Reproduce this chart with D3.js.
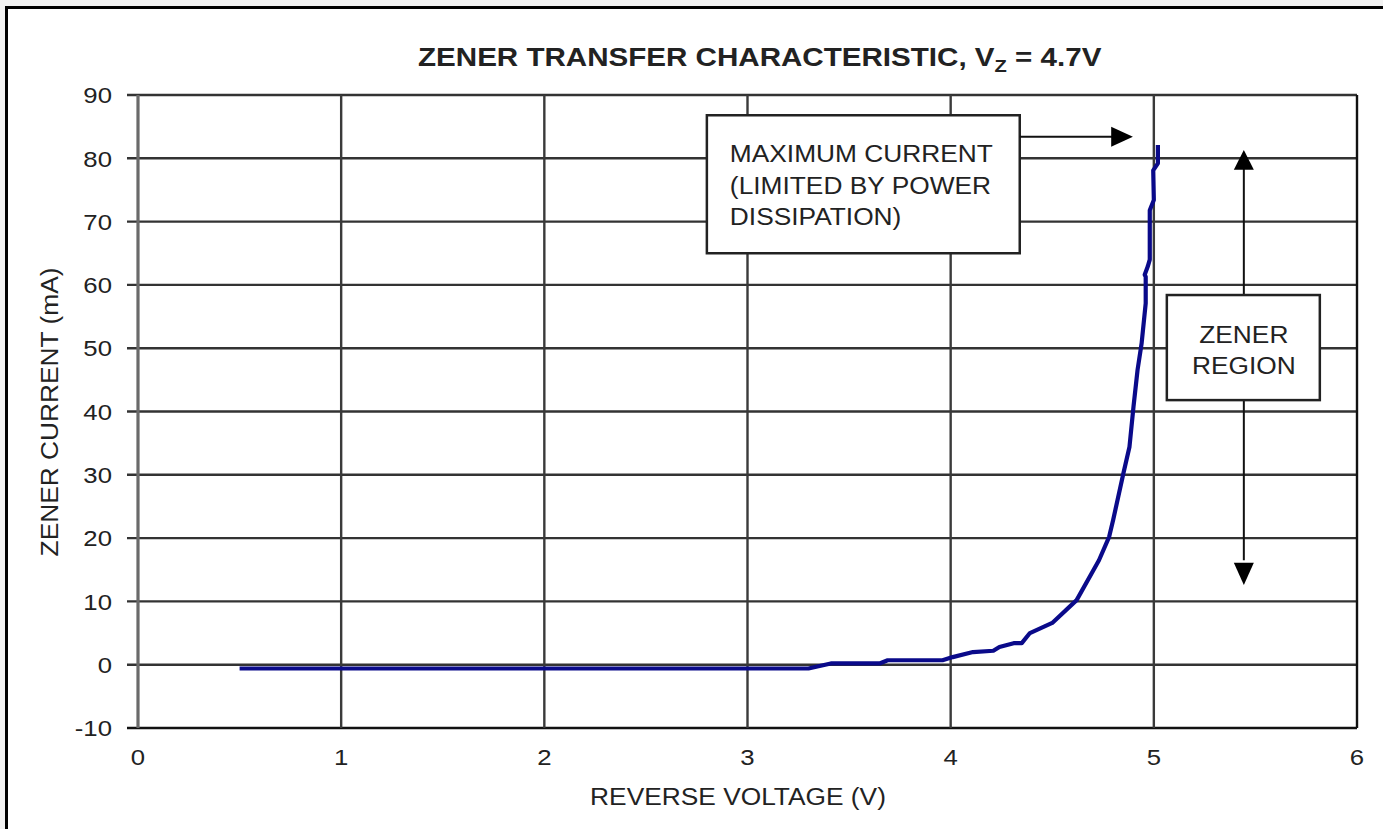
<!DOCTYPE html>
<html><head><meta charset="utf-8">
<script src="https://cdn.jsdelivr.net/npm/d3@7"></script>
<style>
html,body{margin:0;padding:0;background:#f2f2f2;}
svg{display:block;}
text{font-family:"Liberation Sans",Arial,sans-serif;fill:#222;}
</style></head>
<body><svg id="c" width="1383" height="829"></svg>
<script>
// ---- data ----
const voltage = [0.5, 3.3, 3.41, 3.65, 3.69, 3.96, 4.01, 4.11, 4.21, 4.24, 4.31, 4.35, 4.39, 4.50, 4.62, 4.73, 4.78, 4.80, 4.85, 4.88, 4.90, 4.92, 4.94, 4.96, 4.96, 4.955, 4.97, 4.98, 4.98, 5.0, 4.997, 5.02, 5.02];
const current = [-0.6, -0.6, 0.2, 0.2, 0.7, 0.7, 1.2, 2.0, 2.2, 2.8, 3.4, 3.4, 5.0, 6.6, 10.2, 16.5, 20.2, 22.9, 30.2, 34.4, 40.8, 46.6, 50.8, 57.1, 61.3, 61.6, 62.9, 64.0, 71.8, 73.4, 78.1, 79.2, 82.1];
const xTicks = [0, 1, 2, 3, 4, 5, 6];
const yTicks = [-10, 0, 10, 20, 30, 40, 50, 60, 70, 80, 90];
const titleMain = "ZENER TRANSFER CHARACTERISTIC, V";
const titleSub = "Z";
const titleEnd = " = 4.7V";
const xLabel = "REVERSE VOLTAGE (V)";
const yLabel = "ZENER CURRENT (mA)";
const note1 = ["MAXIMUM CURRENT", "(LIMITED BY POWER", "DISSIPATION)"];
const note2 = ["ZENER", "REGION"];

const SX = 1.12; // horizontal stretch of the reference lettering
const svg = d3.select("#c");
// frame
svg.append("rect").attr("x",5).attr("y",6).attr("width",1400).attr("height",900).attr("fill","#fff");
svg.append("path").attr("d","M6.5,829 V7.5 H1383").attr("fill","none").attr("stroke","#000").attr("stroke-width",3);

const x = d3.scaleLinear().domain([0,6]).range([138,1357]);
const y = d3.scaleLinear().domain([-10,90]).range([728,95]);

// grid
const g = svg.append("g");
g.selectAll(".hg").data(yTicks).join("line")
  .attr("x1",x(0)-11).attr("x2",x(6)).attr("y1",d=>y(d)).attr("y2",d=>y(d))
  .attr("stroke",d=>d===-10?"#111":"#333").attr("stroke-width",2.4);
g.selectAll(".vg").data(xTicks.slice(1)).join("line")
  .attr("x1",d=>x(d)).attr("x2",d=>x(d)).attr("y1",y(90)).attr("y2",y(-10))
  .attr("stroke",d=>d===6?"#111":"#3a3a3a").attr("stroke-width",2.4);
g.append("line").attr("x1",x(0)).attr("x2",x(0)).attr("y1",y(90)).attr("y2",y(-10))
  .attr("stroke","#6a6a6a").attr("stroke-width",3.2);

function stext(sel, px, py, fs, anchor, rot){
  return sel.attr("transform",`translate(${px},${py})${rot?" rotate(-90)":""} scale(${SX},1)`)
    .attr("dy","0.36em").attr("text-anchor",anchor).attr("font-size",fs);
}

// tick labels
svg.selectAll(".yl").data(yTicks).join("text")
  .each(function(d){ stext(d3.select(this),112,y(d),23,"end"); }).text(d=>d);
svg.selectAll(".xl").data(xTicks).join("text")
  .each(function(d){ stext(d3.select(this),x(d),757,23,"middle"); }).text(d=>d);

// axis titles
stext(svg.append("text"),738,797,23.5,"middle").text(xLabel);
stext(svg.append("text"),50,412,23.5,"middle",true).text(yLabel);

// title
const t = svg.append("text").attr("x",0).attr("y",0).attr("font-weight","bold")
  .attr("font-size",25).style("font-family",'"Liberation Sans Narrow","Liberation Sans",Arial,sans-serif');
t.append("tspan").text(titleMain);
t.append("tspan").attr("font-size",17).attr("dy",6).text(titleSub);
t.append("tspan").attr("dy",-6).text(titleEnd);
const bb = t.node().getBBox();
const sx = 684/bb.width;
t.attr("transform",`translate(${760 - sx*(bb.x+bb.width/2)},${66}) scale(${sx},1)`);

// curve
const pts = voltage.map((v,i)=>[v,current[i]]);
svg.append("path").datum(pts)
  .attr("d",d3.line().x(d=>x(d[0])).y(d=>y(d[1])))
  .attr("fill","none").attr("stroke","#0a0a8a").attr("stroke-width",4.2).attr("stroke-linejoin","round");

// annotation 1
const b1 = {x0:2.80, x1:4.34, y0:86.8, y1:65.0};
svg.append("rect").attr("x",x(b1.x0)).attr("y",y(b1.y0)).attr("width",x(b1.x1)-x(b1.x0)).attr("height",y(b1.y1)-y(b1.y0))
  .attr("fill","#fff").attr("stroke","#222").attr("stroke-width",2.5);
svg.selectAll(".n1").data(note1).join("text")
  .each(function(d,i){ stext(d3.select(this),x(b1.x0)+23,y(b1.y0)+38+i*31.8,23.5,"start"); }).text(d=>d);
const a1y = y(83.4);
svg.append("line").attr("x1",x(b1.x1)).attr("x2",x(4.80)).attr("y1",a1y).attr("y2",a1y).attr("stroke","#111").attr("stroke-width",2);
svg.append("path").attr("d",`M${x(4.79)},${a1y-10} L${x(4.897)},${a1y} L${x(4.79)},${a1y+10} Z`).attr("fill","#000");

// annotation 2
const b2 = {x0:5.064, x1:5.817, y0:58.4, y1:41.8};
const ax = x(5.443);
svg.append("line").attr("x1",ax).attr("x2",ax).attr("y1",y(78.5)).attr("y2",y(b2.y0)).attr("stroke","#111").attr("stroke-width",2);
svg.append("line").attr("x1",ax).attr("x2",ax).attr("y1",y(b2.y1)).attr("y2",y(16.5)).attr("stroke","#111").attr("stroke-width",2);
svg.append("path").attr("d",`M${ax-10},${y(78.2)} L${ax},${y(81.3)} L${ax+10},${y(78.2)} Z`).attr("fill","#000");
svg.append("path").attr("d",`M${ax-10},${y(16.1)} L${ax},${y(12.6)} L${ax+10},${y(16.1)} Z`).attr("fill","#000");
svg.append("rect").attr("x",x(b2.x0)).attr("y",y(b2.y0)).attr("width",x(b2.x1)-x(b2.x0)).attr("height",y(b2.y1)-y(b2.y0))
  .attr("fill","#fff").attr("stroke","#222").attr("stroke-width",2.5);
svg.selectAll(".n2").data(note2).join("text")
  .each(function(d,i){ stext(d3.select(this),ax,y(b2.y0)+40+i*31,23.5,"middle"); }).text(d=>d);
</script></body></html>
